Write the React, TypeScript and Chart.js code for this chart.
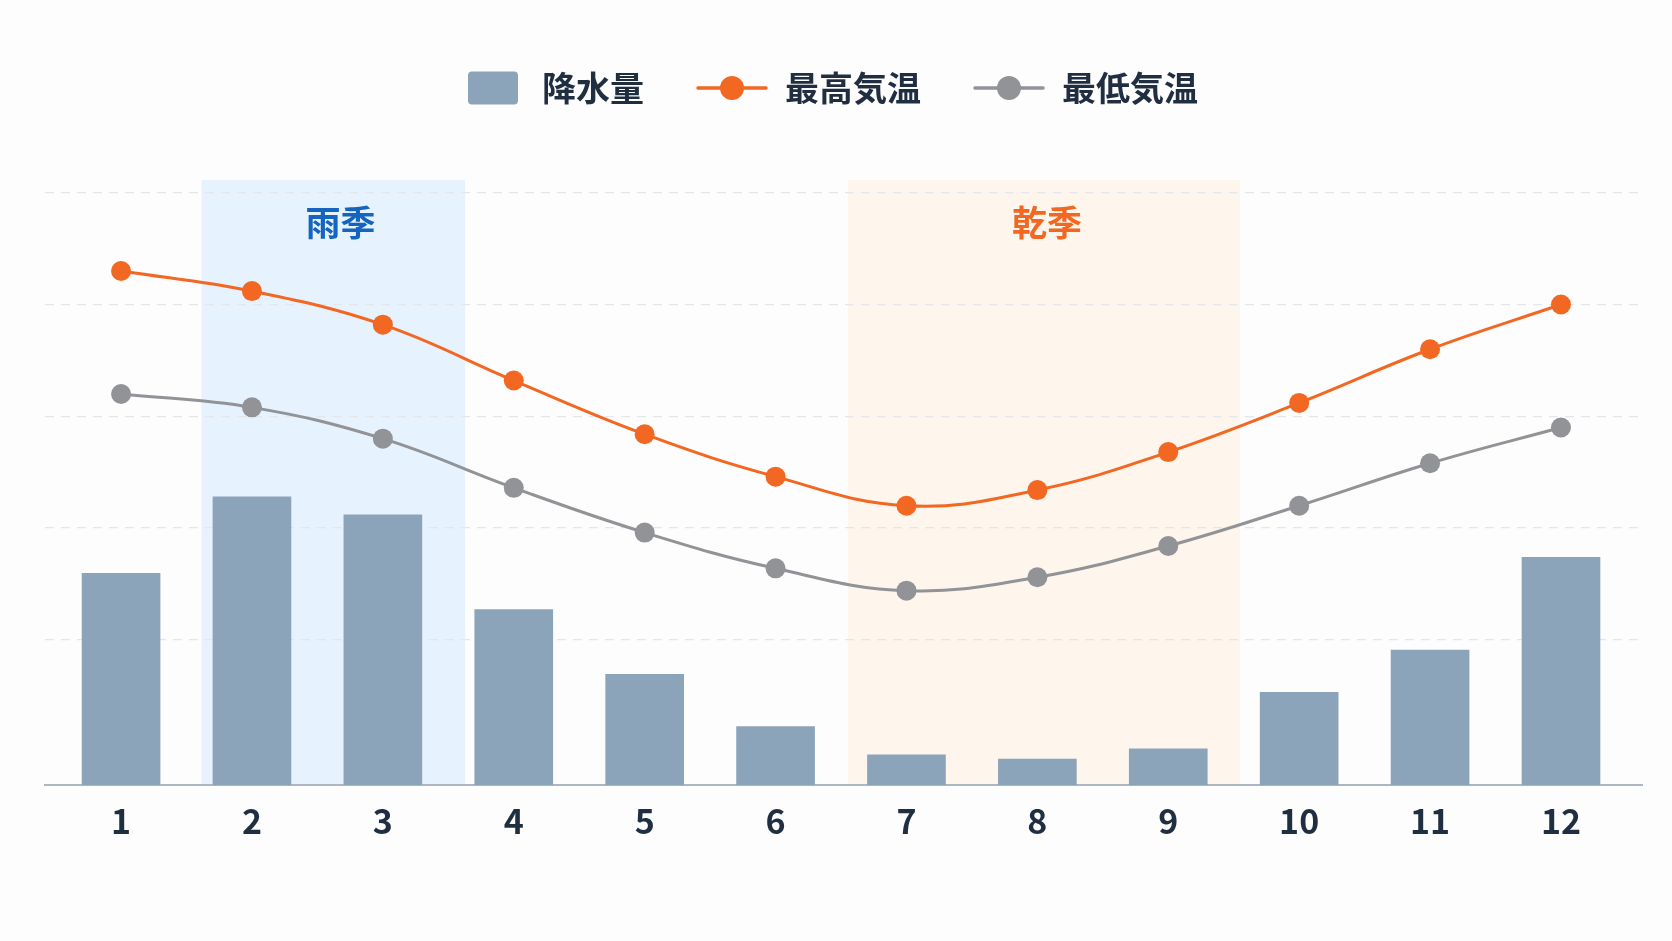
import React, { useEffect, useRef } from "react";
import { Chart, registerables } from "chart.js";

Chart.register(...registerables);

// ---- data ----
const months = [1, 2, 3, 4, 5, 6, 7, 8, 9, 10, 11, 12];
const monthLabels = ["1", "2", "3", "4", "5", "6", "7", "8", "9", "10", "11", "12"];
const precipitation = [105, 143, 134, 87, 55, 29, 15, 13, 18, 46, 67, 113];
const maxTemp = [26.5, 25.6, 24.1, 21.6, 19.2, 17.3, 16.0, 16.7, 18.4, 20.6, 23.0, 25.0];
const minTemp = [21.0, 20.4, 19.0, 16.8, 14.8, 13.2, 12.2, 12.8, 14.2, 16.0, 17.9, 19.5];
const seriesNames = ["降水量", "最高気温", "最低気温"];
const gridTicks = [10, 15, 20, 25, 30];
const seasonLabels = ["雨季", "乾季"];
const seasonStart = [1.615, 6.552];
const seasonEnd = [3.628, 9.548];
const seasonLabelX = [2.677, 8.074];

const FONT = '"Noto Sans CJK JP", "Noto Sans", sans-serif';
const BAR_COLOR = "#8ca4ba";
const ORANGE = "#f26722";
const GRAY = "#919397";
const TEXT = "#1f2e40";
const seasonFill = ["rgba(222,238,253,0.75)", "rgba(254,241,228,0.7)"];
const seasonText = ["#1565c0", "#f26722"];

function makeBoxIcon(color: string) {
  const c = document.createElement("canvas");
  c.width = 72;
  c.height = 34;
  const ctx = c.getContext("2d")!;
  ctx.fillStyle = color;
  const x = 15, y = 0.5, w = 50, h = 33, r = 4;
  ctx.beginPath();
  ctx.moveTo(x + r, y);
  ctx.lineTo(x + w - r, y);
  ctx.quadraticCurveTo(x + w, y, x + w, y + r);
  ctx.lineTo(x + w, y + h - r);
  ctx.quadraticCurveTo(x + w, y + h, x + w - r, y + h);
  ctx.lineTo(x + r, y + h);
  ctx.quadraticCurveTo(x, y + h, x, y + h - r);
  ctx.lineTo(x, y + r);
  ctx.quadraticCurveTo(x, y, x + r, y);
  ctx.closePath();
  ctx.fill();
  return c;
}

function makeLineIcon(color: string) {
  const c = document.createElement("canvas");
  c.width = 72;
  c.height = 26;
  const ctx = c.getContext("2d")!;
  ctx.strokeStyle = color;
  ctx.lineWidth = 3.5;
  ctx.lineCap = "round";
  ctx.beginPath();
  ctx.moveTo(2, 13);
  ctx.lineTo(70, 13);
  ctx.stroke();
  ctx.fillStyle = color;
  ctx.beginPath();
  ctx.arc(36, 13, 12, 0, Math.PI * 2);
  ctx.fill();
  return c;
}

const seasonPlugin = {
  id: "seasonBands",
  beforeDraw(chart: any) {
    const { ctx, chartArea, scales } = chart;
    const xs = scales.x;
    ctx.save();
    for (let i = 0; i < seasonLabels.length; i++) {
      const x0 = xs.getPixelForValue(seasonStart[i]);
      const x1 = xs.getPixelForValue(seasonEnd[i]);
      ctx.fillStyle = seasonFill[i];
      ctx.fillRect(x0, chartArea.top, x1 - x0, chartArea.bottom - chartArea.top);
      ctx.fillStyle = seasonText[i];
      ctx.font = `bold 35px ${FONT}`;
      ctx.textAlign = "center";
      ctx.textBaseline = "middle";
      ctx.fillText(seasonLabels[i], xs.getPixelForValue(seasonLabelX[i]), chartArea.top + 43);
    }
    ctx.restore();
  },
};

const legendGapPlugin = {
  id: "legendGap",
  beforeInit(chart: any) {
    const legend = chart.legend;
    if (!legend) return;
    const orig = legend.fit;
    legend.fit = function fit() {
      orig.call(this);
      this.height += 65;
    };
  },
  afterLayout(chart: any) {
    const legend = chart.legend;
    if (!legend) return;
    legend.left -= 18;
    legend.right -= 18;
  },
};

export default function App() {
  const ref = useRef<HTMLCanvasElement | null>(null);

  useEffect(() => {
    if (!ref.current) return;
    const icons = [makeBoxIcon(BAR_COLOR), makeLineIcon(ORANGE), makeLineIcon(GRAY)];

    const chart = new Chart(ref.current, {
      type: "bar",
      data: {
        datasets: [
          {
            type: "bar",
            label: seriesNames[0],
            data: months.map((m, i) => ({ x: m, y: precipitation[i] })),
            backgroundColor: BAR_COLOR,
            barThickness: 78,
            yAxisID: "yP",
            order: 3,
          },
          {
            type: "line",
            label: seriesNames[1],
            data: months.map((m, i) => ({ x: m, y: maxTemp[i] })),
            borderColor: ORANGE,
            backgroundColor: ORANGE,
            borderWidth: 3,
            pointRadius: 10,
            pointBorderWidth: 0,
            pointBackgroundColor: ORANGE,
            tension: 0.4,
            yAxisID: "yT",
            order: 1,
          },
          {
            type: "line",
            label: seriesNames[2],
            data: months.map((m, i) => ({ x: m, y: minTemp[i] })),
            borderColor: GRAY,
            backgroundColor: GRAY,
            borderWidth: 3,
            pointRadius: 10,
            pointBorderWidth: 0,
            pointBackgroundColor: GRAY,
            tension: 0.4,
            yAxisID: "yT",
            order: 2,
          },
        ] as any,
      },
      options: {
        animation: false,
        responsive: true,
        maintainAspectRatio: false,
        layout: { padding: { top: 19, left: 45, right: 30, bottom: 85 } },
        plugins: {
          tooltip: { enabled: false },
          legend: {
            position: "top",
            align: "center",
            labels: {
              usePointStyle: true,
              pointStyleWidth: 72,
              boxHeight: 34,
              padding: 52,
              color: TEXT,
              font: { family: FONT, size: 34, weight: "bold" },
              generateLabels: (c: any) => {
                const items = (Chart.defaults.plugins.legend.labels as any).generateLabels(c);
                items.sort((a: any, b: any) => a.datasetIndex - b.datasetIndex);
                items.forEach((it: any) => {
                  it.pointStyle = icons[it.datasetIndex];
                });
                return items;
              },
            },
          },
        },
        scales: {
          x: {
            type: "linear",
            offset: false,
            min: 0.419,
            max: 12.619,
            afterBuildTicks: (s: any) => {
              s.ticks = months.map((v) => ({ value: v }));
            },
            grid: { display: false, drawTicks: false },
            border: { display: true, color: "#aeb7c1", width: 2 },
            ticks: {
              padding: 15,
              color: TEXT,
              font: { family: FONT, size: 34, weight: "600" },
              callback: (v: any) => monthLabels[months.indexOf(Number(v))] ?? "",
            },
          },
          yT: {
            type: "linear",
            position: "left",
            min: 3.5,
            max: 30.57,
            afterBuildTicks: (s: any) => {
              s.ticks = gridTicks.map((v) => ({ value: v }));
            },
            ticks: { display: false },
            grid: { color: "#e3e6ea", lineWidth: 1.2, drawTicks: false },
            border: { display: false, dash: [9, 7] },
          },
          yP: {
            type: "linear",
            position: "right",
            display: false,
            min: 0,
            max: 300,
          },
        },
      } as any,
      plugins: [seasonPlugin, legendGapPlugin],
    });

    (document as any).fonts?.load?.(`bold 34px ${FONT}`).then(() => chart.update()).catch(() => {});

    return () => chart.destroy();
  }, []);

  return (
    <div
      style={{
        position: "fixed",
        left: 0,
        top: 0,
        width: 1672,
        height: 941,
        background: "#fdfdfd",
      }}
    >
      <canvas ref={ref} />
    </div>
  );
}
